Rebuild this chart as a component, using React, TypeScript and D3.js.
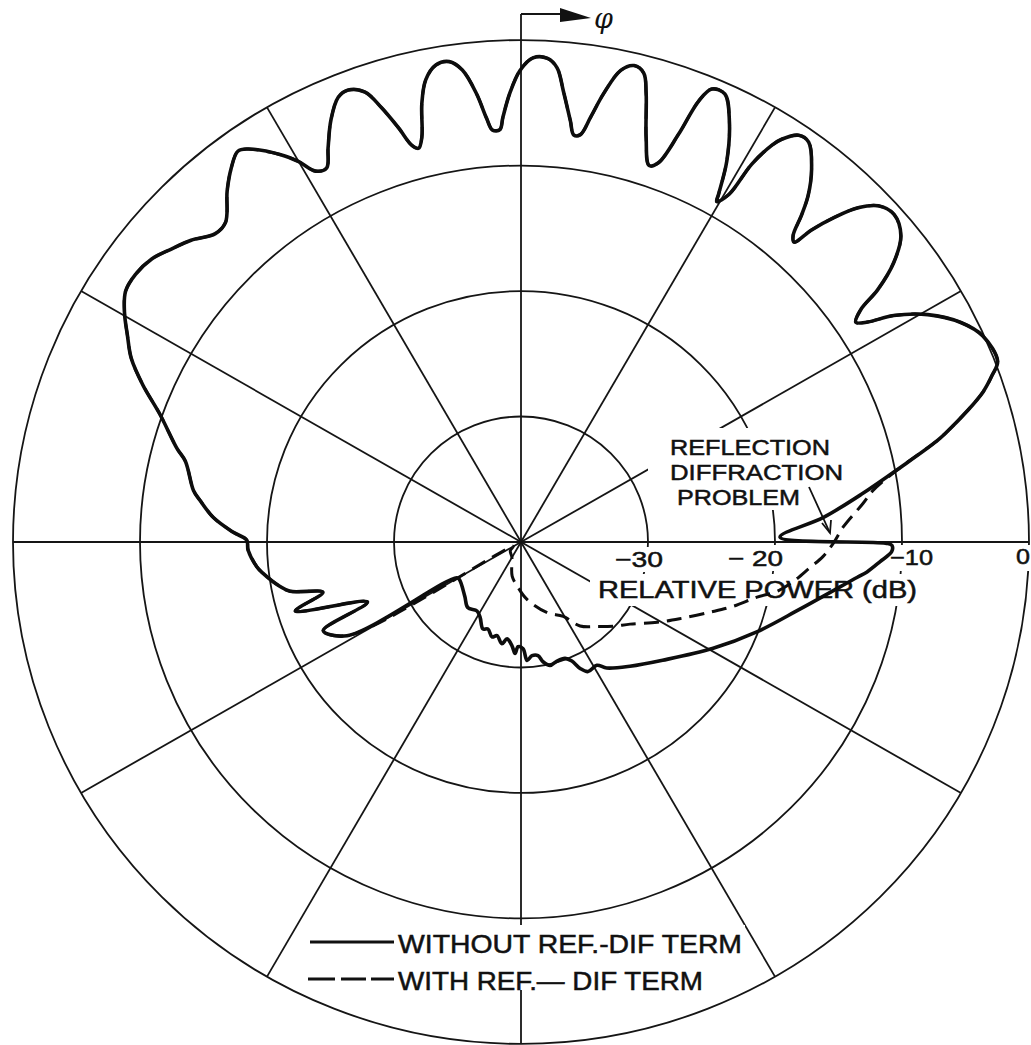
import * as d3 from 'd3';

// polar pattern, angle in degrees clockwise from top (phi), level in dB
const ringLevels = [-30, -20, -10, 0];
const spokeAngles = [0, 30, 60, 90, 120, 150, 180, 210, 240, 270, 300, 330];

// part of the pattern where both traces coincide
const sharedLobes: [number, number][] = [
  [241.4, -24.4], [245.6, -22.9], [248.4, -27.0], [252.8, -21.4], [255.6, -23.9], [257.8, -21.4],
  [259.4, -20.7], [263.1, -19.5], [264.6, -19.1], [268.3, -18.5], [270.4, -18.4], [272.0, -17.3],
  [274.6, -15.7], [277.5, -14.5], [279.0, -13.9], [283.7, -12.8], [285.4, -11.9], [289.7, -9.8],
  [292.8, -7.7], [295.5, -6.0], [298.0, -4.9], [300.4, -3.8], [302.7, -3.0], [305.1, -2.9],
  [307.8, -3.2], [310.3, -3.9], [312.8, -4.6], [315.6, -5.6], [317.6, -5.5], [320.4, -3.7],
  [322.5, -2.5], [324.4, -1.7], [325.5, -2.0], [328.5, -3.8], [330.0, -5.0], [331.3, -6.3],
  [332.8, -6.5], [334.2, -5.1], [336.0, -3.2], [337.9, -1.75], [339.3, -1.5], [341.1, -2.1],
  [342.4, -3.7], [343.7, -5.6], [344.8, -7.25], [345.6, -7.6], [346.4, -6.8], [347.4, -4.2],
  [348.5, -2.4], [350.0, -1.4], [351.6, -1.3], [353.0, -2.1], [354.4, -4.1], [355.4, -6.1],
  [356.1, -7.1], [357.1, -7.1], [357.6, -6.1], [358.6, -4.2], [359.9, -2.4], [361.4, -1.4],
  [363.1, -1.4], [364.3, -2.1], [365.3, -3.9], [366.6, -6.2], [367.3, -7.3], [368.2, -7.2],
  [369.2, -5.7], [370.3, -3.7], [371.8, -1.6], [373.2, -1.0], [374.5, -1.4], [375.4, -2.9],
  [377.0, -6.3], [378.6, -8.35], [379.7, -7.9], [380.9, -5.2], [381.7, -2.2], [382.6, -0.9],
  [384.2, -0.85], [386.1, -2.7], [388.1, -5.6], [389.3, -8.2], [389.6, -8.8], [390.6, -7.8],
  [391.1, -4.85], [392.0, -2.7], [392.6, -1.9], [394.0, -0.9], [395.4, -0.9], [397.6, -2.5],
  [399.3, -4.3], [400.3, -5.85], [401.25, -7.5], [402.0, -7.85], [402.6, -6.25], [403.65, -4.25],
  [404.9, -2.4], [406.4, -1.15], [408.4, -0.7], [410.8, -1.4], [412.8, -3.15], [414.4, -5.45],
  [415.3, -7.45], [416.4, -8.35], [417.3, -7.55], [418.4, -5.55], [420.5, -3.2], [423.2, -1.2],
  [425.7, -0.1], [429.0, 0.2], [430.3, -0.6], [431.8, -1.7], [433.5, -3.4], [435.3, -5.3],
  [436.2, -6.3], [438.8, -9.6],
];

// WITHOUT REF.-DIF TERM, rest of the trace
const withoutTail: [number, number][] = [
  [441.8, -12.8], [445.3, -16.1], [448.9, -19.6], [450.2, -11.3], [450.5, -10.8], [451.5, -10.8],
  [453.2, -11.7], [455.0, -12.65], [456.1, -13.4], [463.7, -17.4], [471.1, -20.1], [479.4, -22.7],
  [490.2, -25.4], [499.1, -26.9], [506.1, -27.9], [508.7, -28.5], [512.9, -28.4], [515.2, -28.9],
  [517.1, -29.7], [519.5, -30.1], [523.4, -30.1], [526.9, -29.9], [529.7, -30.3], [531.6, -30.85],
  [534.5, -30.9], [537.1, -30.55], [538.9, -31.5], [541.6, -31.65], [543.0, -31.1], [544.9, -31.7],
  [548.1, -32.2], [550.5, -31.75], [554.2, -32.3], [556.8, -32.1], [560.6, -32.6], [563.4, -32.45],
  [568.3, -33.2], [572.2, -33.5], [578.8, -33.3], [585.5, -33.8], [598.1, -34.3], [600.6, -34.2],
];

// WITH REF.-DIF TERM, rest of the trace
const withTail: [number, number][] = [
  [441.6, -12.0], [443.5, -12.9], [447.3, -14.6], [450.2, -15.4], [452.8, -16.2], [455.1, -17.15],
  [458.4, -18.35], [461.1, -19.5], [463.3, -20.9], [467.0, -22.5], [470.6, -24.1], [476.1, -26.1],
  [480.8, -27.5], [487.3, -29.2], [492.7, -30.1], [498.5, -31.0], [505.2, -31.85], [510.7, -33.2],
  [519.9, -34.0], [534.1, -35.4], [545.1, -36.5], [554.4, -37.2], [571.0, -38.6], [590.0, -38.9],
  [600.5, -39.3],
];

const width = 1031;
const height = 1045;
const cx = 521;
const cy = 542;
const outerR = 508;
const squash = 0.988; // scanned sheet is a bit shorter than wide

const rScale = d3.scaleLinear().domain([-40, 0]).range([0, outerR]);

const px = (a: number, db: number) => cx + rScale(db) * Math.sin((a * Math.PI) / 180);
const py = (a: number, db: number) => cy - rScale(db) * Math.cos((a * Math.PI) / 180) * squash;

const trace = d3.line<[number, number]>()
  .x((d) => px(d[0], d[1]))
  .y((d) => py(d[0], d[1]))
  .curve(d3.curveCatmullRomClosed.alpha(0.5));

const font = '"Liberation Sans", Arial, sans-serif';

const Label = ({ x, y, w, text, size }: any) => (
  <text x={x} y={y} textLength={w} lengthAdjust="spacingAndGlyphs" fontSize={size} fontFamily={font}
    fill="#111" stroke="#111" strokeWidth={0.5}>
    {text}
  </text>
);

export default function App() {
  const solid = [...sharedLobes, ...withoutTail];
  const dashed = [...sharedLobes, ...withTail];

  return (
    <svg width={width} height={height} style={{ display: 'block', position: 'absolute', left: 0, top: 0, background: '#fff' }}>
      <rect width={width} height={height} fill="#fff" />

      {/* grid */}
      <g stroke="#151515" strokeWidth={1.8} fill="none">
        {ringLevels.map((lv) => (
          <ellipse key={lv} cx={cx} cy={cy} rx={rScale(lv)} ry={rScale(lv) * squash} />
        ))}
        {spokeAngles.map((a) => (
          <line key={a} x1={cx} y1={cy} x2={px(a, 0)} y2={a === 0 ? 14 : py(a, 0)} />
        ))}
        <line x1={cx} y1={14} x2={562} y2={14} strokeWidth={2} />
      </g>
      <polygon points="560,8 591,18 560,22" fill="#111" />
      <text x={594} y={28} fontSize={27} fontStyle="italic" fontFamily='"DejaVu Serif", serif' fill="#111">φ</text>

      {/* white gaps behind lettering */}
      <g fill="#fff">
        <rect x={648} y={428} width={202} height={82} />
        <rect x={610} y={547} width={58} height={25} />
        <rect x={723} y={545} width={66} height={26} />
        <rect x={885} y={545} width={54} height={26} />
        <rect x={1013} y={545} width={18} height={26} />
        <rect x={590} y={574} width={333} height={32} />
        <rect x={304} y={925} width={441} height={65} />
      </g>

      <Label x={670} y={455} w={160} text="REFLECTION" size={22} />
      <Label x={670} y={480} w={173} text="DIFFRACTION" size={22} />
      <Label x={677} y={505} w={123} text="PROBLEM" size={22} />
      <line x1={809} y1={487} x2={830} y2={533} stroke="#111" strokeWidth={1.8} />
      <path d="M822,523 L830,533 L831,520" fill="none" stroke="#111" strokeWidth={1.8} />

      <Label x={615} y={567} w={48} text="−30" size={22} />
      <Label x={728} y={566} w={55} text="− 20" size={22} />
      <Label x={890} y={565} w={43} text="−10" size={22} />
      <Label x={1016} y={564} w={14} text="0" size={22} />
      <Label x={598} y={598} w={319} text="RELATIVE POWER (dB)" size={23} />

      {/* traces */}
      <path d={trace(dashed) ?? ''} fill="none" stroke="#0d0d0d" strokeWidth={3} strokeDasharray="15 8" />
      <path d={trace(solid) ?? ''} fill="none" stroke="#0d0d0d" strokeWidth={3.6} strokeLinejoin="round" />

      {/* legend */}
      <line x1={310} y1={942} x2={394} y2={942} stroke="#111" strokeWidth={3} />
      <Label x={398} y={953} w={344} text="WITHOUT REF.-DIF TERM" size={25} />
      <line x1={308} y1={979} x2={394} y2={979} stroke="#111" strokeWidth={3} strokeDasharray="27 6 25 5 23" />
      <Label x={398} y={990} w={305} text="WITH REF.— DIF TERM" size={25} />
    </svg>
  );
}
